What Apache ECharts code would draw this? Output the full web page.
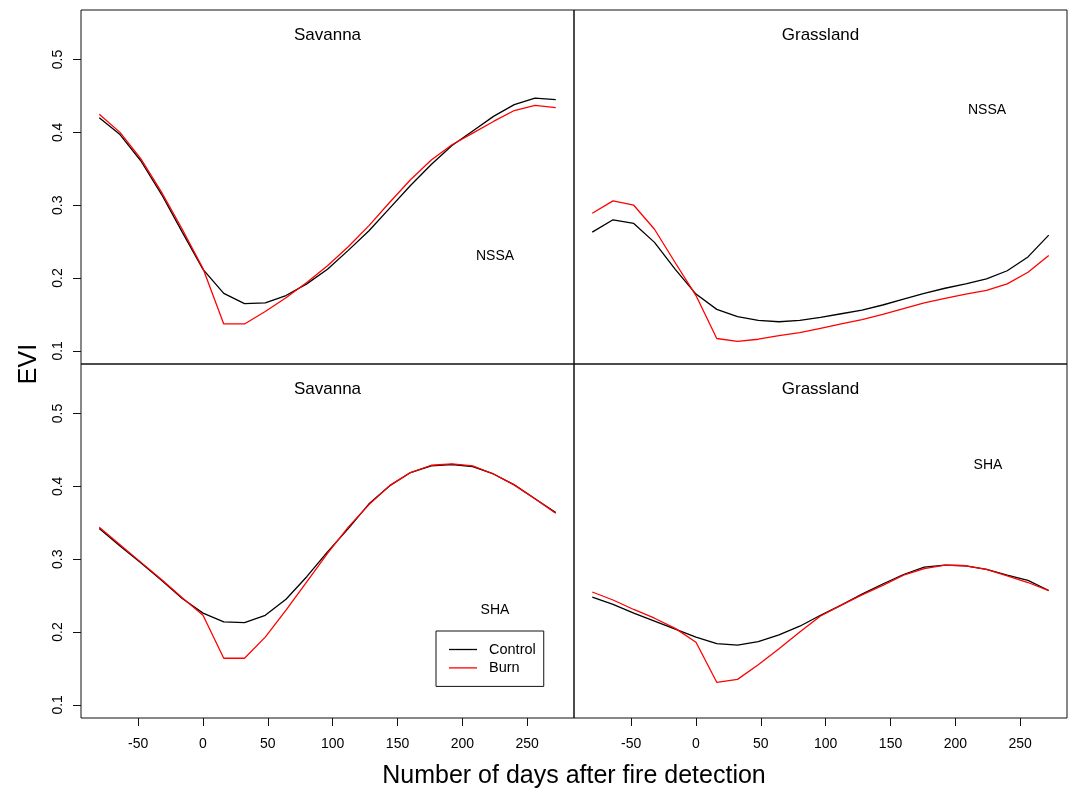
<!DOCTYPE html>
<html>
<head>
<meta charset="utf-8">
<script src="https://cdn.jsdelivr.net/npm/echarts@6/dist/echarts.min.js"></script>
<style>
html,body{margin:0;padding:0;background:#fff;}
#chart{width:1073px;height:792px;}
</style>
</head>
<body>
<div id="chart"></div>
<script>
// ---- data ----
const days = [-80,-64,-48,-32,-16,0,16,32,48,64,80,96,112,128,144,160,176,192,208,224,240,256,272];
const savNSSAControl = [0.420,0.397,0.361,0.315,0.263,0.212,0.179,0.165,0.166,0.176,0.192,0.212,0.238,0.265,0.296,0.327,0.356,0.382,0.402,0.422,0.438,0.447,0.445];
const savNSSABurn    = [0.425,0.400,0.364,0.318,0.267,0.213,0.137,0.137,0.154,0.173,0.194,0.217,0.243,0.272,0.304,0.335,0.362,0.383,0.399,0.415,0.430,0.437,0.434];
const grassNSSAControl = [0.263,0.280,0.275,0.249,0.212,0.178,0.157,0.147,0.142,0.140,0.142,0.146,0.151,0.156,0.163,0.171,0.179,0.186,0.192,0.199,0.210,0.229,0.259];
const grassNSSABurn    = [0.289,0.306,0.300,0.267,0.221,0.176,0.117,0.113,0.116,0.121,0.125,0.131,0.137,0.143,0.150,0.158,0.166,0.172,0.178,0.183,0.192,0.208,0.231];
const savSHAControl = [0.342,0.318,0.295,0.271,0.246,0.226,0.214,0.213,0.223,0.245,0.276,0.310,0.342,0.376,0.401,0.419,0.428,0.430,0.427,0.417,0.402,0.383,0.364];
const savSHABurn    = [0.344,0.320,0.296,0.272,0.247,0.223,0.164,0.164,0.193,0.230,0.269,0.308,0.344,0.375,0.401,0.419,0.429,0.431,0.428,0.417,0.402,0.383,0.363];
const grassSHAControl = [0.248,0.238,0.226,0.215,0.204,0.193,0.184,0.182,0.187,0.196,0.208,0.223,0.237,0.252,0.266,0.279,0.289,0.292,0.291,0.286,0.278,0.271,0.257];
const grassSHABurn    = [0.255,0.244,0.231,0.219,0.205,0.186,0.131,0.135,0.155,0.177,0.200,0.222,0.237,0.251,0.264,0.278,0.287,0.292,0.291,0.286,0.277,0.268,0.257];
const xTicks = [-50,0,50,100,150,200,250];
const yTicks = [0.1,0.2,0.3,0.4,0.5];
const panelTitles = ['Savanna','Grassland','Savanna','Grassland'];
const panelTags = ['NSSA','NSSA','SHA','SHA'];
const seriesNames = ['Control','Burn'];

// ---- layout ----
const FONT = '"Liberation Sans", Arial, Helvetica, sans-serif';
const L = 81, W = 493, T = 10, H = 354;
const grids = [
  {left: L, top: T, width: W, height: H},
  {left: L + W, top: T, width: W, height: H},
  {left: L, top: T + H, width: W, height: H},
  {left: L + W, top: T + H, width: W, height: H}
].map(g => Object.assign(g, {show: true, borderColor: '#111', borderWidth: 1, backgroundColor: 'transparent', containLabel: false}));

const XMIN = -94.08, XMAX = 286.08, YMIN = 0.082, YMAX = 0.568;

const xAxes = grids.map((g, i) => ({
  type: 'value', gridIndex: i, min: XMIN, max: XMAX, position: 'bottom',
  splitLine: {show: false},
  axisLine: {show: false, onZero: false},
  axisTick: {show: i >= 2, customValues: xTicks, length: 8, lineStyle: {color: '#111', width: 1}},
  axisLabel: {show: i >= 2, customValues: xTicks, margin: 19, color: '#000', fontSize: 14, fontFamily: FONT}
}));
const yAxes = grids.map((g, i) => ({
  type: 'value', gridIndex: i, min: YMIN, max: YMAX, position: 'left',
  splitLine: {show: false},
  axisLine: {show: false, onZero: false},
  axisTick: {show: i % 2 === 0, customValues: yTicks, length: 8, lineStyle: {color: '#111', width: 1}},
  axisLabel: {show: i % 2 === 0, customValues: yTicks, rotate: 90, margin: 16, color: '#000', fontSize: 14, fontFamily: FONT,
    formatter: v => v.toFixed(1)}
}));

const panelData = [
  [savNSSAControl, savNSSABurn],
  [grassNSSAControl, grassNSSABurn],
  [savSHAControl, savSHABurn],
  [grassSHAControl, grassSHABurn]
];
const colors = ['#000000', '#ff0000'];
const series = [];
panelData.forEach((pair, i) => {
  pair.forEach((vals, k) => {
    series.push({
      type: 'line', name: seriesNames[k], xAxisIndex: i, yAxisIndex: i,
      data: days.map((d, j) => [d, vals[j]]),
      symbol: 'none', showSymbol: false, smooth: false, animation: false,
      lineStyle: {color: colors[k], width: 1.3}, itemStyle: {color: colors[k]},
      z: 2 + k
    });
  });
});

// text annotations (titles, tags)
const titlePos = [[327.5, 35],[820.5, 35],[327.5, 389],[820.5, 389]];
const tagPos = [[495, 256],[987, 110],[495, 610],[988, 465]];
const graphics = [];
titlePos.forEach((p, i) => graphics.push({type: 'text', x: p[0], y: p[1],
  style: {text: panelTitles[i], font: '17px ' + FONT, fill: '#000', textAlign: 'center', textVerticalAlign: 'middle'}}));
tagPos.forEach((p, i) => graphics.push({type: 'text', x: p[0], y: p[1],
  style: {text: panelTags[i], font: '14px ' + FONT, fill: '#000', textAlign: 'center', textVerticalAlign: 'middle'}}));
graphics.push({type: 'text', x: 574, y: 776,
  style: {text: 'Number of days after fire detection', font: '25px ' + FONT, fill: '#000', textAlign: 'center', textVerticalAlign: 'middle'}});
graphics.push({type: 'text', x: 29, y: 364, rotation: Math.PI / 2,
  style: {text: 'EVI', font: '25px ' + FONT, fill: '#000', textAlign: 'center', textVerticalAlign: 'middle'}});

const chart = echarts.init(document.getElementById('chart'), null, {renderer: 'canvas'});
chart.setOption({
  backgroundColor: '#fff',
  animation: false,
  grid: grids,
  xAxis: xAxes,
  yAxis: yAxes,
  series: series,
  legend: {
    show: true,
    data: seriesNames,
    left: 436,
    top: 631,
    orient: 'vertical',
    borderColor: '#111',
    borderWidth: 1,
    padding: [11, 8, 11, 13],
    icon: 'rect',
    itemWidth: 28,
    itemHeight: 1.3,
    itemGap: 3.4,
    textStyle: {fontSize: 14.5, lineHeight: 14, fontFamily: FONT, color: '#000', padding: [0, 0, 0, 7]},
    selectedMode: false
  },
  graphic: graphics
});
</script>
</body>
</html>
